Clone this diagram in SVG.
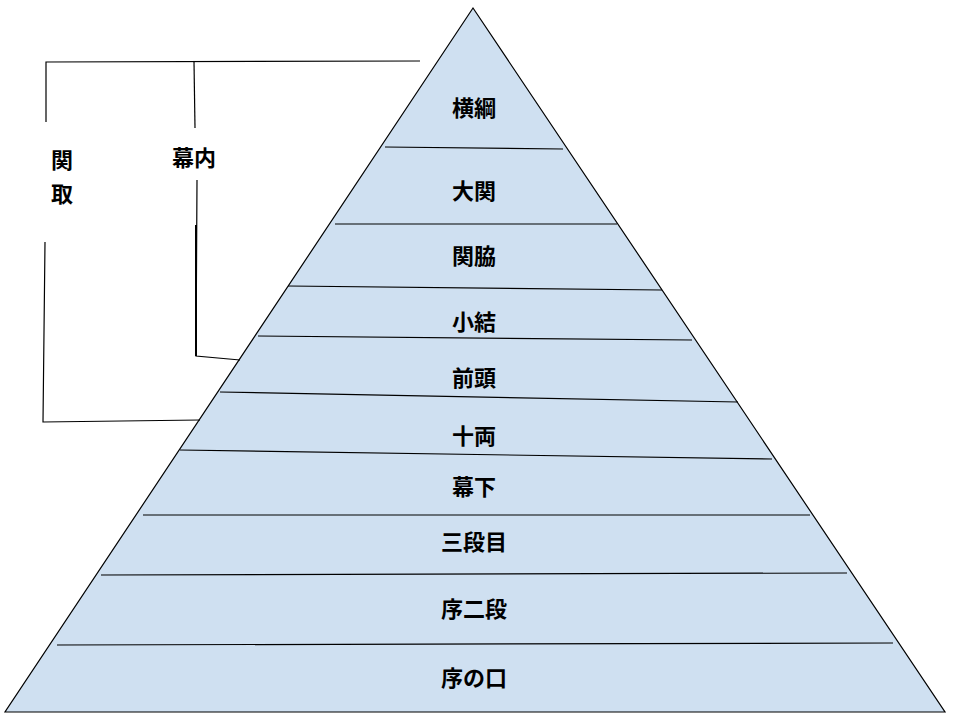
<svg xmlns="http://www.w3.org/2000/svg" width="960" height="720" viewBox="0 0 960 720">
<style>
.t{font-family:"Noto Sans CJK JP",sans-serif;font-weight:bold;font-size:22px;fill:#000;text-anchor:middle}
.l{stroke:#000;stroke-width:1.2;fill:none}
</style>
<rect width="960" height="720" fill="#fff"/>
<g id="pyramid">
<polygon points="473,8 5,712 945,712" fill="#cfe0f1" stroke="#000" stroke-width="1.2"/>
</g>
<g id="connectors">
<line class="l" x1="385" y1="147" x2="563" y2="149"/>
<line class="l" x1="335" y1="224" x2="617" y2="224"/>
<line class="l" x1="288" y1="286" x2="662" y2="290"/>
<line class="l" x1="258" y1="336" x2="692" y2="340"/>
<line class="l" x1="220" y1="392" x2="738" y2="402"/>
<line class="l" x1="180" y1="450" x2="772" y2="459"/>
<line class="l" x1="143" y1="515" x2="810" y2="515"/>
<line class="l" x1="101" y1="575" x2="847" y2="573"/>
<line class="l" x1="57" y1="645" x2="893" y2="643"/>
<polyline class="l" points="46,122 46,62 420,61"/>
<polyline class="l" points="45,242 43,422 200,420"/>
<line class="l" x1="194" y1="62" x2="195" y2="128"/>
<polyline class="l" points="197,180 196,356 240,360"/>
<line x1="196" y1="225" x2="196" y2="356" stroke="#000" stroke-width="2"/>
</g>
<g id="labels">
<text class="t" x="474" y="116">横綱</text>
<text class="t" x="474" y="199">大関</text>
<text class="t" x="474" y="264">関脇</text>
<text class="t" x="474" y="330">小結</text>
<text class="t" x="474" y="386">前頭</text>
<text class="t" x="474" y="444">十両</text>
<text class="t" x="474" y="495">幕下</text>
<text class="t" x="474" y="550">三段目</text>
<text class="t" x="474" y="617">序二段</text>
<text class="t" x="474" y="686">序の口</text>
<text class="t" x="194" y="166">幕内</text>
<text class="t" x="62" y="168">関</text>
<text class="t" x="62" y="202">取</text>
</g>
</svg>
